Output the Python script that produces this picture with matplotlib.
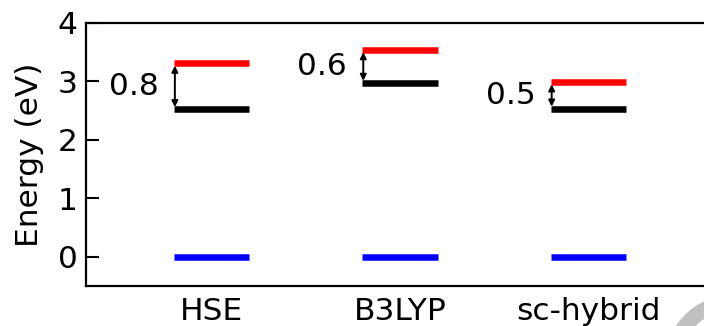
import matplotlib
matplotlib.use("Agg")
import matplotlib.pyplot as plt
from matplotlib.patches import Wedge

categories = ["HSE", "B3LYP", "sc-hybrid"]
vbm = [0.0, 0.0, 0.0]
lower_level = [2.52, 2.97, 2.53]
upper_level = [3.31, 3.54, 2.99]
gap_labels = ["0.8", "0.6", "0.5"]
yticks = [0, 1, 2, 3, 4]

FS = 22.5
fig = plt.figure(figsize=(7.04, 3.26), dpi=100)
ax = fig.add_axes([86/704, 40/326, 628/704, 263/326])

xs = list(range(1, len(categories) + 1))
hw = 0.2
lw = 4.7
for x, v, lo, up, lab in zip(xs, vbm, lower_level, upper_level, gap_labels):
    ax.hlines(v, x - hw, x + hw, color="#0000ff", lw=lw)
    ax.hlines(lo, x - hw, x + hw, color="black", lw=lw)
    ax.hlines(up, x - hw, x + hw, color="#ff0000", lw=lw)
    ax.annotate("", xy=(x - hw + 0.005, up - 0.04), xytext=(x - hw + 0.005, lo + 0.04),
                arrowprops=dict(arrowstyle="<|-|>", color="black", lw=1.4,
                                mutation_scale=9, shrinkA=0, shrinkB=0))
    ax.text(x - hw - 0.08, (lo + up) / 2, lab, ha="right", va="center", fontsize=FS)

ax.set_xlim(1/3, 11/3)
ax.set_ylim(-0.5, 4)
ax.set_yticks(yticks)
ax.set_xticks(xs)
ax.set_xticklabels(categories)
ax.tick_params(axis="y", direction="in", length=9, width=1.5, labelsize=FS, pad=6)
ax.tick_params(axis="x", length=0, labelsize=FS, pad=8)
ax.set_ylabel("Energy (eV)", fontsize=FS, labelpad=10)
for s in ax.spines.values():
    s.set_linewidth(1.6)

w = Wedge((7.32, 3.26 - 3.62), 0.66, 90, 200, width=0.14,
          transform=fig.dpi_scale_trans, color="#c0c0c0")
fig.add_artist(w)

fig.savefig("out.png", dpi=100)
